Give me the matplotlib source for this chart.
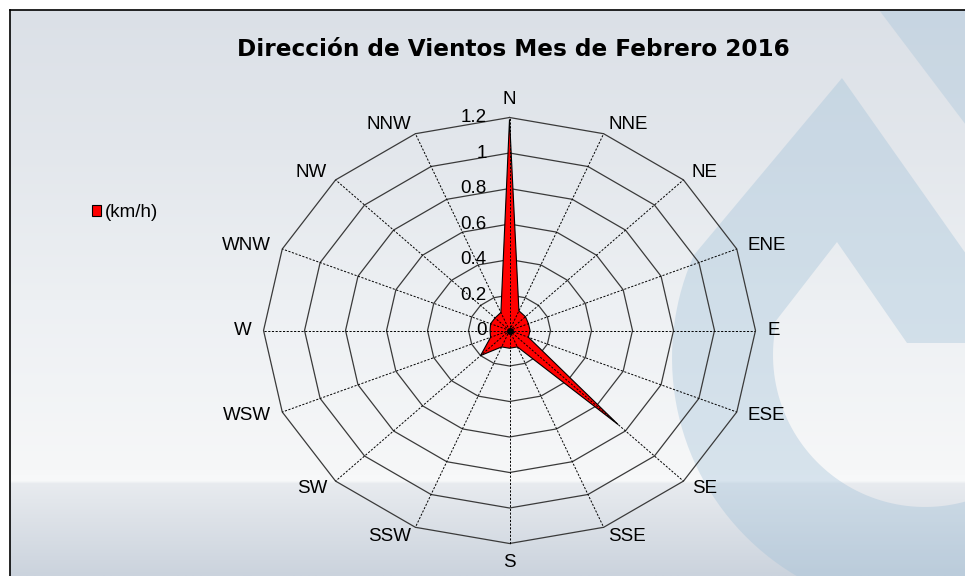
import numpy as np
import matplotlib.pyplot as plt
from matplotlib.patches import Polygon
from matplotlib.colors import to_rgb

directions = ['N', 'NNE', 'NE', 'ENE', 'E', 'ESE', 'SE', 'SSE',
              'S', 'SSW', 'SW', 'WSW', 'W', 'WNW', 'NW', 'NNW']
speed_kmh = [1.19, 0.12, 0.11, 0.10, 0.10, 0.10, 0.75, 0.10,
             0.10, 0.10, 0.20, 0.10, 0.095, 0.10, 0.10, 0.11]
ring_values = [0.2, 0.4, 0.6, 0.8, 1.0, 1.2]
ring_labels = ['0.2', '0.4', '0.6', '0.8', '1', '1.2']
title = 'Dirección de Vientos Mes de Febrero 2016'
series_name = '(km/h)'

fig = plt.figure(figsize=(9.65, 5.76), dpi=100, facecolor='white')

# ---- background panel (pixel coords) ----
bg = fig.add_axes([0, 0, 1, 1])
bg.set_xlim(0, 965)
bg.set_ylim(576, 0)
bg.axis('off')

stops_y = [10, 150, 300, 470, 481, 484, 576]
stops_c = ['#dbe0e7', '#e3e7ec', '#edf0f3', '#f6f7f8', '#f8f9fa', '#e8ebef', '#cbd3dd']
ys = np.arange(10, 577)
cols = np.array([to_rgb(c) for c in stops_c])
grad = np.stack([np.interp(ys, stops_y, cols[:, k]) for k in range(3)], axis=1)
img = np.repeat(grad[:, None, :], 2, axis=1)
bg.imshow(img, extent=(10, 965, 576, 10), aspect='auto', zorder=0, interpolation='bilinear')

# watermark logo (droplet) on the right
halfplane = Polygon([(701, -122), (1265, 678), (-100, 678), (-100, -122)],
                    transform=bg.transData)
a_out = np.radians(np.linspace(204, -60, 120))
outer = [(842, 78)] + list(zip(925 + 253 * np.cos(a_out), 358 + 253 * np.sin(a_out)))
drop = Polygon(outer, closed=True, fc='#9fc0d8', ec='none', alpha=0.36, zorder=1)
bg.add_patch(drop)
drop.set_clip_path(halfplane)

a_in = np.radians(np.linspace(192, 0, 100))
inner = [(837, 242), (775, 322)] + list(zip(925 + 152 * np.cos(a_in), 355 + 152 * np.sin(a_in))) \
    + [(1077, 343), (907, 343)]
inner_poly = Polygon(inner, closed=True, transform=bg.transData)
hole = bg.imshow(img, extent=(10, 965, 576, 10), aspect='auto', zorder=1.5, interpolation='bilinear')
hole.set_clip_path(inner_poly)
bg.set_xlim(0, 965)
bg.set_ylim(576, 0)

bg.add_patch(Polygon([(879, 10), (1000, 10), (1000, 170)], closed=True,
                     fc='#9fc0d8', ec='none', alpha=0.32, zorder=1))

bg.plot([10, 965], [10, 10], color='black', lw=1.2, zorder=2)
bg.plot([10, 10], [10, 576], color='black', lw=1.2, zorder=2)

# ---- radar chart ----
ax = fig.add_axes([0.2731, 0.0564, 0.5098, 0.7396])
ax.set_xlim(-1.2, 1.2)
ax.set_ylim(-1.2, 1.2)
ax.axis('off')

theta = np.arange(len(directions)) * 2 * np.pi / len(directions)
sx = np.sin(theta)
cy = np.cos(theta)

for rv in ring_values:
    ax.plot(np.append(rv * sx, rv * sx[0]), np.append(rv * cy, rv * cy[0]),
            color='#3a3a3a', lw=0.9, zorder=2, clip_on=False)

r = np.array(speed_kmh)
ax.fill(r * sx, r * cy, fc='#ff0000', ec='black', lw=0.8, zorder=3, label=series_name)

for i in range(len(directions)):
    ax.plot([0, 1.2 * sx[i]], [0, 1.2 * cy[i]], color='black', lw=0.7,
            ls=(0, (2.2, 1.6)), zorder=4, clip_on=False)
ax.plot(0, 0, 'o', color='black', ms=4, zorder=5)

lab_font = dict(family='Liberation Sans', fontsize=13.5, color='black')
for rv, lbl in zip([0] + ring_values, ['0'] + ring_labels):
    ax.annotate(lbl, (0, rv), xytext=(-23, 0), textcoords='offset pixels',
                ha='right', va='center', zorder=6, **lab_font)

for i, d in enumerate(directions):
    x, y = 1.2 * sx[i], 1.2 * cy[i]
    if i == 0:
        ax.annotate(d, (x, y), xytext=(0, 14), textcoords='offset pixels',
                    ha='center', va='baseline', **lab_font)
    elif i == 8:
        ax.annotate(d, (x, y), xytext=(0, -10), textcoords='offset pixels',
                    ha='center', va='top', **lab_font)
    else:
        ha = 'left' if sx[i] > 0 else 'right'
        ax.annotate(d, (x, y), xytext=(12 * sx[i], 10 * cy[i]), textcoords='offset pixels',
                    ha=ha, va='center', **lab_font)

fig.text(513.5 / 965, 1 - 50 / 576, title, ha='center', va='center',
         fontsize=16.7, fontweight='bold', family='DejaVu Sans', color='black')

fig.legend(loc='center left', bbox_to_anchor=(91.5 / 965, 1 - 212.5 / 576),
           frameon=False, borderpad=0, borderaxespad=0, handlelength=0.5,
           handleheight=0.5, handletextpad=0.2,
           prop={'family': 'Liberation Sans', 'size': 13.5})

fig.savefig('out.png', dpi=100)
